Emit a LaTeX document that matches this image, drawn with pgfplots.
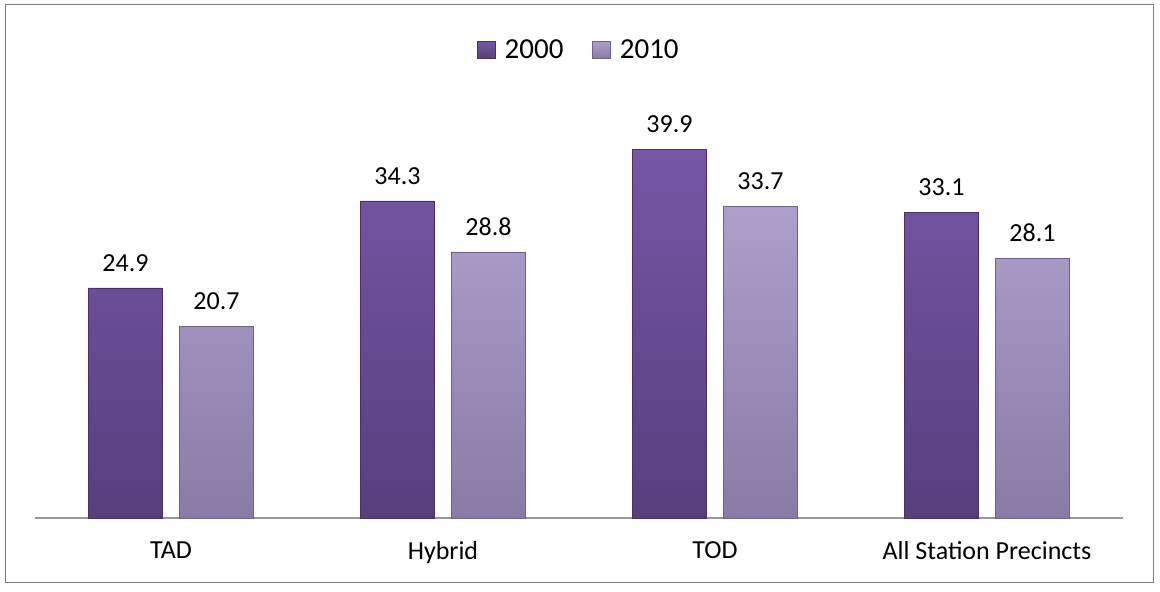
\documentclass[border=0pt]{standalone}
\usepackage{pgfplots}
\pgfplotsset{compat=1.18}
\usepackage{fontspec}
\setmainfont{Carlito}

\definecolor{darkTop}{HTML}{7656A6}
\definecolor{darkBot}{HTML}{573F7E}
\definecolor{lightTop}{HTML}{AE9ECC}
\definecolor{lightBot}{HTML}{8A7AA6}
\definecolor{frameGray}{HTML}{7F7F7F}

\begin{document}
\begin{tikzpicture}
  % background and outer frame (picture is 1160 x 592 bp)
  \fill[white] (-35bp,-74bp) rectangle (1125bp,518bp);
  \draw[frameGray, line width=1bp] (-29bp,-64bp) rectangle (1118bp,513bp);
  \begin{axis}[
      scale only axis,
      width=1088bp, height=416bp,
      ybar=17bp, bar width=74bp,
      xmin=-0.5, xmax=3.5,
      ymin=0, ymax=45,
      xtick=data,
      xticklabels={TAD, Hybrid, TOD, All Station Precincts},
      xtick style={draw=none},
      ticklabel style={font=\fontsize{26bp}{29bp}\selectfont},
      xticklabel style={yshift=-16bp},
      hide y axis,
      axis x line*=bottom,
      x axis line style={draw=gray!80, line width=1.3bp, -},
      nodes near coords,
      every node near coord/.append style={font=\fontsize{26bp}{29bp}\selectfont, black, yshift=13bp},
      nodes near coords style={/pgf/number format/.cd, fixed, fixed zerofill, precision=1, assume math mode=true},
      legend style={at={(0.5,1.0)}, anchor=south, yshift=38bp, draw=none, fill=none,
        font=\fontsize{29bp}{32bp}\selectfont, column sep=7bp,
        /tikz/every even column/.append style={column sep=27bp}},
      legend columns=2,
    ]
    \addplot[draw=darkBot!80!black, top color=darkTop, bottom color=darkBot,
      legend image code/.code={\fill[top color=darkTop, bottom color=darkBot, draw=darkBot!80!black] (0bp,-9bp) rectangle (18bp,8bp);}]
      coordinates {(0,24.9) (1,34.3) (2,39.9) (3,33.1)};
    \addlegendentry{2000}
    \addplot[draw=lightBot!80!black, top color=lightTop, bottom color=lightBot,
      legend image code/.code={\fill[top color=lightTop, bottom color=lightBot, draw=lightBot!80!black] (0bp,-9bp) rectangle (18bp,8bp);}]
      coordinates {(0,20.7) (1,28.8) (2,33.7) (3,28.1)};
    \addlegendentry{2010}
  \end{axis}
\end{tikzpicture}
\end{document}
